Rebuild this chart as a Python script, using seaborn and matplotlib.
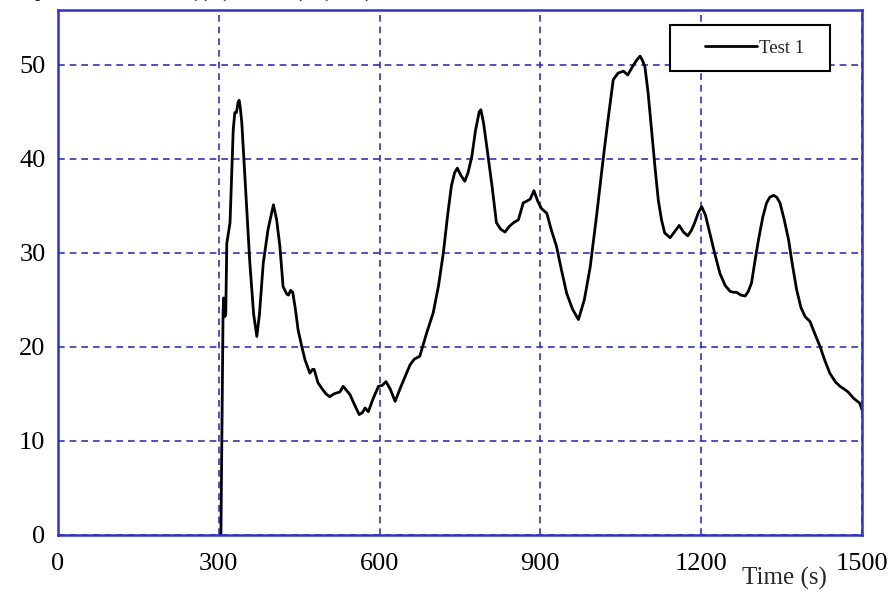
import numpy as np
import pandas as pd
import matplotlib
matplotlib.use("Agg")
import matplotlib.pyplot as plt
from matplotlib.patches import Rectangle
import seaborn as sns

# values
time_s = [304, 306, 308, 309, 310, 311, 313, 315, 321, 324, 327, 330, 333, 336, 338, 340, 343,
          349, 358, 365, 371, 376, 383, 392, 402, 408, 414, 420, 427, 430, 434, 438, 443, 448,
          455, 461, 470, 475, 478, 485, 492, 500, 507, 515, 520, 526, 532, 538, 545, 552, 562,
          568, 573, 579, 588, 598, 605, 612, 620, 629, 640, 657, 665, 675, 688, 700, 710, 719,
          727, 734, 740, 745, 752, 759, 765, 772, 779, 786, 789, 794, 800, 810, 818, 826, 834,
          842, 850, 859, 868, 875, 881, 888, 895, 902, 912, 920, 930, 940, 949, 960, 971, 982,
          993, 1005, 1017, 1027, 1036, 1045, 1055, 1063, 1072, 1080, 1086, 1090, 1095, 1101,
          1108, 1114, 1120, 1126, 1132, 1142, 1150, 1159, 1167, 1175, 1182, 1188, 1195, 1201,
          1208, 1216, 1225, 1235, 1245, 1254, 1260, 1266, 1274, 1282, 1288, 1294, 1300, 1307,
          1315, 1322, 1328, 1335, 1341, 1347, 1355, 1363, 1370, 1378, 1386, 1394, 1403, 1412,
          1422, 1431, 1440, 1450, 1459, 1467, 1474, 1485, 1496, 1500]
test1 = [0.0, 12.0, 23.6, 25.2, 24.5, 23.2, 23.4, 31.0, 33.2, 38.0, 43.1, 44.9, 44.9, 46.0,
         46.2, 45.5, 43.8, 37.8, 28.9, 23.5, 21.1, 23.5, 28.9, 32.5, 35.1, 33.5, 30.7, 26.4,
         25.6, 25.5, 26.0, 25.8, 24.0, 21.8, 20.0, 18.6, 17.2, 17.6, 17.6, 16.2, 15.6, 15.0,
         14.7, 15.0, 15.1, 15.2, 15.8, 15.4, 14.9, 14.0, 12.8, 13.0, 13.5, 13.1, 14.5, 15.8,
         15.9, 16.3, 15.5, 14.2, 15.8, 18.1, 18.7, 19.0, 21.5, 23.6, 26.5, 30.0, 34.0, 37.1,
         38.5, 39.0, 38.2, 37.6, 38.5, 40.2, 43.0, 45.0, 45.2, 43.8, 41.3, 37.0, 33.2, 32.5,
         32.2, 32.8, 33.2, 33.5, 35.3, 35.5, 35.7, 36.6, 35.5, 34.7, 34.2, 32.5, 30.7, 28.0,
         25.7, 24.0, 22.9, 25.0, 28.5, 34.0, 39.9, 44.5, 48.4, 49.1, 49.3, 48.9, 49.8, 50.5,
         50.9, 50.5, 49.8, 47.0, 42.7, 39.0, 35.6, 33.5, 32.1, 31.6, 32.2, 32.9, 32.2, 31.8,
         32.4, 33.2, 34.3, 34.9, 34.0, 32.1, 30.0, 27.8, 26.5, 25.9, 25.8, 25.8, 25.5, 25.4,
         25.9, 26.8, 29.0, 31.4, 33.8, 35.3, 35.9, 36.1, 35.9, 35.3, 33.5, 31.4, 28.8, 26.1,
         24.2, 23.2, 22.7, 21.4, 20.0, 18.5, 17.2, 16.3, 15.8, 15.5, 15.2, 14.5, 14.0, 13.3]
x_ticks = [0, 300, 600, 900, 1200, 1500]
y_ticks = [0, 10, 20, 30, 40, 50]

df = pd.DataFrame({"time": time_s, "value": test1})

sns.set_style("white")
plt.rcParams["font.family"] = ["Liberation Serif", "DejaVu Serif"]
plt.rcParams["mathtext.fontset"] = "stix"

blue = "#2f2fdc"

fig = plt.figure(figsize=(8.89, 5.91), dpi=100)
ax = fig.add_axes([0.0652, 0.0948, 0.9044, 0.8882])

sns.lineplot(data=df, x="time", y="value", color="black", linewidth=2.0,
             label="Test 1", ax=ax)

ax.set_xlim(0, 1500)
ax.set_ylim(0, 55.8)
ax.set_xticks(x_ticks)
ax.set_yticks(y_ticks)
ax.grid(True, color=blue, linestyle=(0, (4, 3)), linewidth=1.2)
for s in ax.spines.values():
    s.set_color(blue)
    s.set_linewidth(1.8)
    s.set_visible(True)
ax.tick_params(direction="inout", length=12, width=1.5, color=blue,
               labelsize=19, pad=3, labelcolor="black")
ax.tick_params(axis="x", pad=7)

ax.set_xlabel("Time (s)", fontsize=18, va="center", ha="center")
ax.xaxis.set_label_coords(0.903, -0.083)
ax.set_ylabel("")

# legend box drawn as a white patch, legend entry placed inside it
ax.add_patch(Rectangle((0.7612, 0.8838), 0.199, 0.0876, transform=ax.transAxes,
                       facecolor="white", edgecolor="black", linewidth=1.5, zorder=4))
leg = ax.legend(loc="center left", bbox_to_anchor=(0.8047, 0.9276), fontsize=13.5,
                frameon=False, handlelength=2.8, handletextpad=0.1,
                borderpad=0, borderaxespad=0)
leg.set_zorder(5)

fig.text(27 / 889, 1 + 4 / 591, r"q, Heat flux Q$_{av}$(t) (kW/m$^2$), (kW)",
         fontsize=18, ha="left", va="baseline")

fig.savefig("out.png", dpi=100)
